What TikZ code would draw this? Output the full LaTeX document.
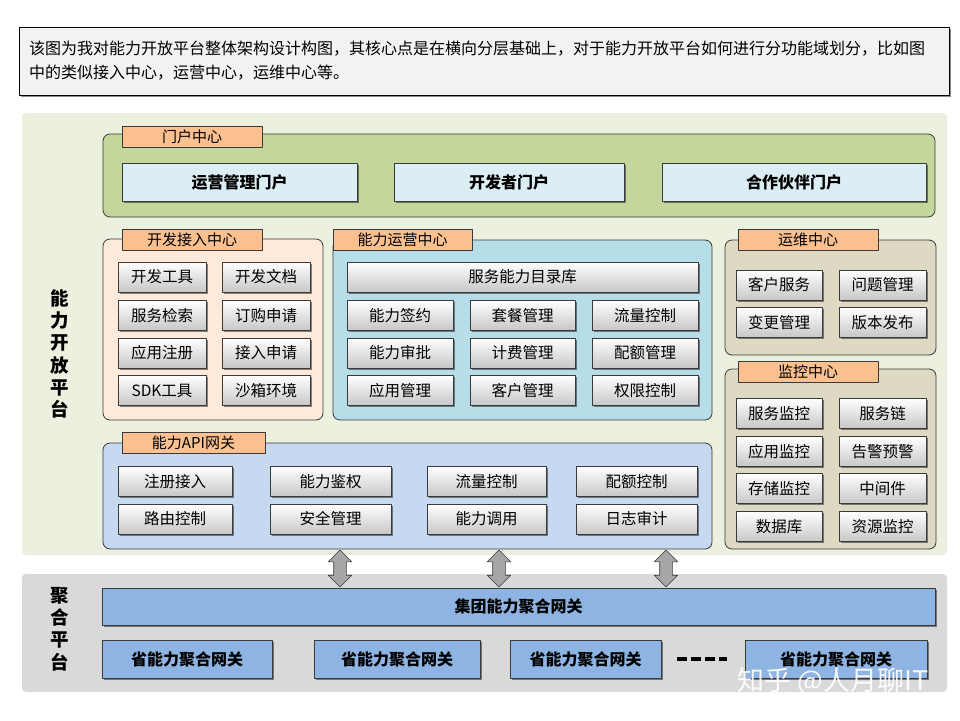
\documentclass[tikz,border=0pt]{standalone}
\usepackage{fontspec}
\setmainfont{Noto Sans CJK SC}
\usepackage{xcolor}
\usepackage{tikz}
\usetikzlibrary{shadows,shapes.arrows}
\definecolor{platgreen}{HTML}{EBF1DE}
\definecolor{portalgreen}{HTML}{C3D69B}
\definecolor{tagorange}{HTML}{FAC090}
\definecolor{portalblue}{HTML}{DBEEF4}
\definecolor{devpeach}{HTML}{FDEADA}
\definecolor{opsblue}{HTML}{B7DEE8}
\definecolor{mainttan}{HTML}{DDD9C3}
\definecolor{apiblue}{HTML}{C6D9F1}
\definecolor{aggrgray}{HTML}{D9D9D9}
\definecolor{gatewayblue}{HTML}{8EB4E3}
\definecolor{notegray}{HTML}{F2F2F2}
\definecolor{edgegray}{HTML}{3A3A3A}
\definecolor{arrowgray}{HTML}{A6A6A6}

\begin{document}
\begin{tikzpicture}[
    x=1pt,y=-1pt,
    line join=round,
    platform/.style={rounded corners=4pt, inner sep=0pt},
    panel/.style={draw=edgegray, rounded corners=7pt, line width=0.8pt, inner sep=0pt},
    tag/.style={draw=edgegray, fill=tagorange, line width=0.6pt, inner sep=0pt, minimum width=140pt, minimum height=21pt, font=\fontsize{15}{17}\selectfont},
    boxshadow/.style={drop shadow={shadow xshift=1.6pt, shadow yshift=-1.6pt, opacity=0.45, fill=black}},
    note/.style={draw=black, fill=notegray, line width=0.8pt, boxshadow, minimum width=930pt, minimum height=68pt, text width=910pt, inner xsep=10pt, align=left, font=\fontsize{16}{24}\selectfont},
    portalbox/.style={draw=edgegray, fill=portalblue, line width=0.7pt, boxshadow, inner sep=0pt, minimum height=38pt, font=\bfseries\fontsize{16}{18}\selectfont},
    func/.style={draw=edgegray, top color=white, bottom color=black!22, line width=0.7pt, boxshadow, inner sep=0pt, minimum height=30pt, font=\fontsize{15.5}{18}\selectfont},
    gateway/.style={draw=edgegray, fill=gatewayblue, line width=0.7pt, boxshadow, inner sep=0pt, minimum height=38pt, font=\bfseries\fontsize{16}{18}\selectfont},
    sidelabel/.style={align=center, inner sep=0pt, font=\bfseries\fontsize{18.5}{22.2}\selectfont},
    linkarrow/.style={double arrow, draw=edgegray, fill=arrowgray, line width=0.6pt, rotate=90, inner sep=6pt, minimum height=37pt, double arrow head extend=5.5pt},
    ellipsisline/.style={line width=3.5pt, dash pattern=on 10pt off 4pt, draw=black}
]
\fill[white] (0,0) rectangle (960,720);
\useasboundingbox (0,0) rectangle (960,720);

% Intro note
\node[note] (intro) at (484,61) {该图为我对能力开放平台整体架构设计构图，其核心点是在横向分层基础上，对于能力开放平台如何进行分功能域划分，比如图\\中的类似接入中心，运营中心，运维中心等。};

% Platforms
\node[platform, fill=platgreen, minimum width=925pt, minimum height=442pt] (openplat) at (484.5,334) {};
\node[platform, fill=aggrgray, minimum width=925pt, minimum height=118pt] (aggrplat) at (484.5,633) {};
\node[sidelabel] (openlabel) at (60,354) {能\\力\\开\\放\\平\\台};
\node[sidelabel] (aggrlabel) at (60,629) {聚\\合\\平\\台};

% Portal center
\node[panel, fill=portalgreen, minimum width=832pt, minimum height=83pt] (portalpanel) at (519,175.5) {};
\node[tag] (portaltag) at (192,137) {门户中心};
\node[portalbox, minimum width=235pt] (portal1) at (239.5,182) {运营管理门户};
\node[portalbox, minimum width=230pt] (portal2) at (509,182) {开发者门户};
\node[portalbox, minimum width=264pt] (portal3) at (794,182) {合作伙伴门户};

% Developer access center
\node[panel, fill=devpeach, minimum width=220pt, minimum height=181pt] (devpanel) at (213,329.5) {};
\node[tag] (devtag) at (192,239.5) {开发接入中心};
\node[func, minimum width=88pt] (dev1) at (162,277) {开发工具};
\node[func, minimum width=88pt] (dev2) at (266,277) {开发文档};
\node[func, minimum width=88pt] (dev3) at (162,315.5) {服务检索};
\node[func, minimum width=88pt] (dev4) at (266,315.5) {订购申请};
\node[func, minimum width=88pt] (dev5) at (162,353) {应用注册};
\node[func, minimum width=88pt] (dev6) at (266,353) {接入申请};
\node[func, minimum width=88pt] (dev7) at (162,390.5) {SDK工具};
\node[func, minimum width=88pt] (dev8) at (266,390.5) {沙箱环境};

% Capability operation center
\node[panel, fill=opsblue, minimum width=379pt, minimum height=180pt] (opspanel) at (522.5,330) {};
\node[tag, minimum width=139pt] (opstag) at (402.5,239.5) {能力运营中心};
\node[func, minimum width=351pt] (catalog) at (522.5,277) {服务能力目录库};
\node[func, minimum width=106pt] (ops1) at (400,315.5) {能力签约};
\node[func, minimum width=105pt] (ops2) at (522.5,315.5) {套餐管理};
\node[func, minimum width=106pt] (ops3) at (645,315.5) {流量控制};
\node[func, minimum width=106pt] (ops4) at (400,353) {能力审批};
\node[func, minimum width=105pt] (ops5) at (522.5,353) {计费管理};
\node[func, minimum width=106pt] (ops6) at (645,353) {配额管理};
\node[func, minimum width=106pt] (ops7) at (400,390.5) {应用管理};
\node[func, minimum width=105pt] (ops8) at (522.5,390.5) {客户管理};
\node[func, minimum width=106pt] (ops9) at (645,390.5) {权限控制};

% Maintenance center
\node[panel, fill=mainttan, minimum width=211pt, minimum height=115pt] (maintpanel) at (830.5,297.5) {};
\node[tag] (mainttag) at (808,239.5) {运维中心};
\node[func, minimum width=86pt] (maint1) at (779,285) {客户服务};
\node[func, minimum width=87pt] (maint2) at (882.5,285) {问题管理};
\node[func, minimum width=86pt] (maint3) at (779,322.5) {变更管理};
\node[func, minimum width=87pt] (maint4) at (882.5,322.5) {版本发布};

% Monitoring center
\node[panel, fill=mainttan, minimum width=211pt, minimum height=180pt] (monpanel) at (830.5,459) {};
\node[tag] (montag) at (808,371.5) {监控中心};
\node[func, minimum width=86pt] (mon1) at (779,413.5) {服务监控};
\node[func, minimum width=87pt] (mon2) at (882.5,413.5) {服务链};
\node[func, minimum width=86pt] (mon3) at (779,451.5) {应用监控};
\node[func, minimum width=87pt] (mon4) at (882.5,451.5) {告警预警};
\node[func, minimum width=86pt] (mon5) at (779,488.5) {存储监控};
\node[func, minimum width=87pt] (mon6) at (882.5,488.5) {中间件};
\node[func, minimum width=86pt] (mon7) at (779,526.5) {数据库};
\node[func, minimum width=87pt] (mon8) at (882.5,526.5) {资源监控};

% Capability API gateway
\node[panel, fill=apiblue, minimum width=609pt, minimum height=106pt] (apipanel) at (407.5,496) {};
\node[tag, minimum width=143pt] (apitag) at (193.5,443) {能力API网关};
\node[func, minimum width=114pt] (api1) at (175,481.5) {注册接入};
\node[func, minimum width=121pt] (api2) at (330.5,481.5) {能力鉴权};
\node[func, minimum width=119pt] (api3) at (486.5,481.5) {流量控制};
\node[func, minimum width=121pt] (api4) at (636.5,481.5) {配额控制};
\node[func, minimum width=114pt] (api5) at (175,519) {路由控制};
\node[func, minimum width=121pt] (api6) at (330.5,519) {安全管理};
\node[func, minimum width=119pt] (api7) at (486.5,519) {能力调用};
\node[func, minimum width=121pt] (api8) at (636.5,519) {日志审计};

% Links to aggregation
\node[linkarrow] (link1) at (340,568.5) {};
\node[linkarrow] (link2) at (499,568.5) {};
\node[linkarrow] (link3) at (666,568.5) {};

% Aggregation gateways
\node[gateway, minimum width=833pt, minimum height=37pt] (groupgw) at (518.5,606.5) {集团能力聚合网关};
\node[gateway, minimum width=170pt] (provgw1) at (187,659) {省能力聚合网关};
\node[gateway, minimum width=166pt] (provgw2) at (397,659) {省能力聚合网关};
\node[gateway, minimum width=151pt] (provgw3) at (585.5,659) {省能力聚合网关};
\node[gateway, minimum width=182pt] (provgw4) at (836,659) {省能力聚合网关};
\draw[ellipsisline] ([xshift=16pt]provgw3.east) -- ([xshift=-18pt]provgw4.west);

% Watermark
\node[text=white, opacity=0.92, inner sep=0pt, font=\fontsize{27}{30}\selectfont] (watermark) at (833,681) {知乎 @人月聊IT};

\end{tikzpicture}
\end{document}
